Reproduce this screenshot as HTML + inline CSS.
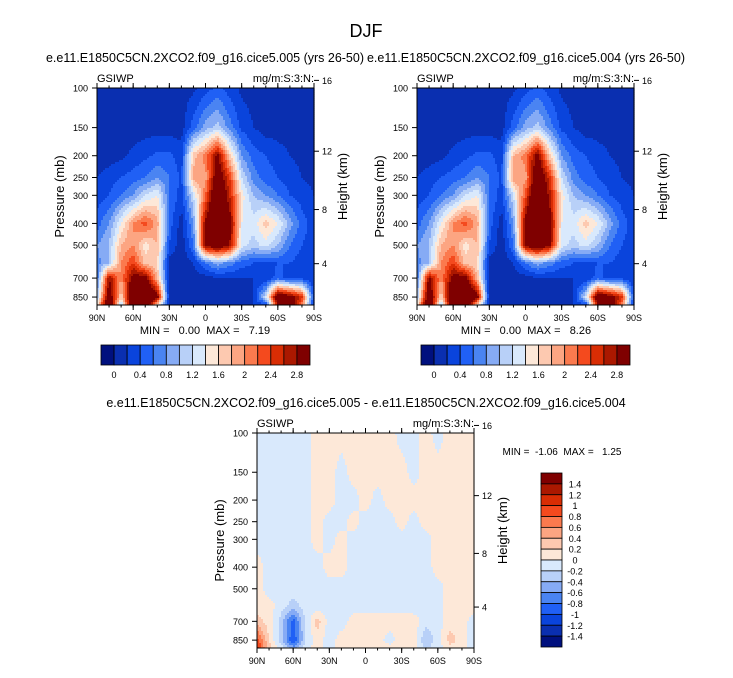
<!DOCTYPE html>
<html><head><meta charset="utf-8"><style>
html,body{margin:0;padding:0;background:#fff;}
body{width:733px;height:673px;overflow:hidden;font-family:"Liberation Sans",sans-serif;}
svg text{font-family:"Liberation Sans",sans-serif;fill:#000;white-space:pre;}
</style></head><body>
<svg id="fig" width="733" height="673" viewBox="0 0 733 673">
<text x="366" y="37" font-size="18" text-anchor="middle">DJF</text>
<g id="layer"></g>
</svg>
<script>
// ---- data ----
const lats = ["90N","80N","70N","60N","50N","40N","30N","20N","10N","0","10S","20S","30S","40S","50S","60S","70S","80S","90S"];
const levels = [100,150,200,250,300,400,500,600,700,850,925];
const xTickLabels = ["90N","60N","30N","0","30S","60S","90S"];
const pTickLabels = [100,150,200,250,300,400,500,700,850];
const hTickLabels = [16,12,8,4];
const hTickPressures = [92.5,191,347,604];
const topBounds = [0,0.2,0.4,0.6,0.8,1.0,1.2,1.4,1.6,1.8,2.0,2.2,2.4,2.6,2.8];
const topLabels = ["0","0.4","0.8","1.2","1.6","2","2.4","2.8"];
const diffBounds = [-1.4,-1.2,-1.0,-0.8,-0.6,-0.4,-0.2,0,0.2,0.4,0.6,0.8,1.0,1.2,1.4];
const diffLabels = ["1.4","1.2","1","0.8","0.6","0.4","0.2","0","-0.2","-0.4","-0.6","-0.8","-1","-1.2","-1.4"];
const colors = ["#00107e","#0a2fb0","#0a44dc","#2060f5","#4a84f2","#86abf5","#b8d0f8","#d9e9fc","#fde8d8","#fdc9b0","#fca582","#fb7a4e","#f44a1e","#d92d04","#ab1800","#7f0000"];

const field1 = [
[.1,.1,.1,.1,.1,.1,.1,.1,.15,.3,.45,.3,.15,.1,.1,.1,.1,.1,.1],
[.1,.1,.1,.1,.1,.1,.1,.1,.5,.9,1.1,.7,.35,.2,.1,.1,.1,.1,.1],
[.1,.1,.15,.25,.35,.45,.45,.3,1.7,2.1,2.9,1.7,.8,.5,.4,.3,.2,.15,.1],
[.2,.3,.4,.5,.6,.8,.6,.35,1.9,1.9,3.2,2.4,1.2,.7,.5,.4,.3,.2,.15],
[.3,.4,.6,.8,1.2,1.4,.6,.3,1.2,2.2,3.5,2.6,1.5,1.0,.8,.6,.4,.3,.2],
[.5,.8,1.4,2.0,2.3,1.9,.5,.1,.8,2.9,3.5,3.0,1.4,1.3,1.7,1.4,.9,.5,.3],
[.8,1.0,1.8,2.0,1.5,1.8,.4,.05,.6,2.9,3.2,2.8,1.3,1.1,1.3,1.0,.6,.4,.3],
[.7,1.0,2.0,2.4,1.7,1.6,.1,.05,.2,.6,.9,.7,.5,.4,.3,.4,.4,.3,.2],
[.6,2.8,2.0,3.0,3.0,1.8,.1,.05,.1,.1,.2,.2,.2,.2,.2,.5,.3,.3,.2],
[1.0,3.2,1.6,3.5,3.5,3.0,.1,.05,.1,.1,.1,.1,.1,.2,1.2,3.3,3.0,2.5,.3],
[1.5,3.5,1.0,3.5,3.5,1.5,.1,.05,.1,.1,.1,.1,.1,.2,.3,2.8,3.3,2.0,.2]];
const field2 = [
[.1,.1,.1,.1,.1,.1,.1,.1,.15,.3,.45,.3,.15,.1,.1,.1,.1,.1,.1],
[.1,.1,.1,.1,.1,.1,.1,.1,.5,.9,1.1,.7,.35,.2,.1,.1,.1,.1,.1],
[.1,.1,.15,.25,.35,.45,.45,.3,1.8,2.1,3.0,1.7,.8,.5,.4,.3,.2,.15,.1],
[.2,.3,.4,.5,.6,.8,.6,.35,2.0,1.9,3.3,2.5,1.2,.7,.5,.4,.3,.2,.15],
[.3,.4,.6,.8,1.2,1.4,.6,.3,1.2,2.3,3.6,2.7,1.5,1.0,.8,.6,.4,.3,.2],
[.5,.8,1.4,2.0,2.3,1.9,.5,.1,.8,3.0,3.6,3.0,1.4,1.3,1.7,1.4,.9,.5,.3],
[.8,1.0,1.8,2.0,1.5,1.8,.4,.05,.6,2.9,3.3,2.9,1.3,1.1,1.3,1.0,.6,.4,.3],
[.7,1.0,2.0,2.4,1.7,1.6,.1,.05,.2,.6,.9,.7,.5,.4,.3,.4,.4,.3,.2],
[.6,2.9,2.0,3.0,3.0,1.8,.1,.05,.1,.1,.2,.2,.2,.2,.2,.5,.3,.3,.2],
[1.0,3.3,1.6,3.6,3.6,3.0,.1,.05,.1,.1,.1,.1,.1,.2,1.2,3.3,3.0,2.5,.3],
[1.5,3.6,1.0,3.6,3.6,1.5,.1,.05,.1,.1,.1,.1,.1,.2,.3,2.8,3.3,2.0,.2]];
const fieldDiff = [
[-.1,-.1,-.1,-.1,-.1,.1,.1,.1,.1,.1,.1,.1,-.1,-.1,.1,-.1,.1,.1,.1],
[-.1,-.1,-.1,-.1,-.1,.1,.1,-.1,.1,.1,.1,.1,.1,-.1,.1,.1,.1,.1,.1],
[-.1,-.1,-.1,-.1,-.1,.1,.1,-.1,-.1,.1,-.1,.1,.1,.1,.1,.1,.1,.1,.1],
[-.1,-.1,-.1,-.1,-.1,.1,-.1,-.1,.1,-.1,-.1,-.1,.1,-.1,.1,.1,.1,.1,.1],
[-.1,-.1,-.1,-.1,-.1,.1,-.1,.1,-.1,-.1,-.1,-.1,-.1,-.1,-.1,.1,.1,.1,.1],
[.1,-.1,-.1,-.1,-.1,-.1,.1,.1,-.1,-.1,-.1,-.1,-.1,-.1,-.1,.1,.1,.1,.1],
[.1,-.1,-.1,-.1,-.1,-.1,-.1,-.1,-.1,-.1,-.1,-.1,-.1,-.1,-.1,-.1,.1,.1,.1],
[.1,.1,-.1,-.3,-.1,-.1,-.1,-.1,-.1,-.1,-.1,-.1,-.1,-.1,-.1,-.1,.1,.1,.1],
[.3,.1,-.3,-.9,-.2,.3,-.1,-.1,.1,.1,.1,.1,.1,.1,-.1,-.1,.1,.1,-.1],
[.9,.2,-.3,-1.0,-.2,.1,-.1,.1,.1,.1,.1,-.1,.1,.1,-.4,-.1,.3,.1,-.1],
[1.1,.3,-.1,-.5,-.1,.1,-.1,.1,.1,.1,.1,.1,.1,.1,-.2,-.1,.1,.1,-.1]];

// ---- drawing ----
const NS="http://www.w3.org/2000/svg";
const layer=document.getElementById('layer');
function mk(tag,attrs,parent,txt){const e=document.createElementNS(NS,tag);for(const k in attrs)e.setAttribute(k,attrs[k]);if(txt!==undefined)e.textContent=txt;(parent||layer).appendChild(e);return e;}
const PB=922;
function bandIndex(v,bounds){let i=0;while(i<bounds.length&&v>=bounds[i])i++;return i;}
function sample(field,fx,lp){
  let c=Math.min(17.999,Math.max(0,fx));const c0=Math.floor(c),tc=c-c0;
  const lv=levels.map(Math.log);
  let r0=0;while(r0<levels.length-2&&lp>lv[r0+1])r0++;
  let tr=(lp-lv[r0])/(lv[r0+1]-lv[r0]);tr=Math.max(0,Math.min(1,tr));
  const a=field[r0][c0]*(1-tc)+field[r0][c0+1]*tc;
  const b=field[r0+1][c0]*(1-tc)+field[r0+1][c0+1]*tc;
  return a*(1-tr)+b*tr;
}
function panel(name,L,T,W,H,field,bounds){
  const g=mk('g',{});
  
  
  const yOf=p=>T+Math.log(p/100)/Math.log(PB/100)*H;
  const xOf=i=>L+i/6*W;
  const s=2;
  function flush(x0,x1,y,col){
    const r=mk('rect',{x:x0,y:y,width:x1-x0+0.6,height:Math.min(s,T+H-y)+0.4,fill:col},g);
    
    
  }
  for(let y=T;y<T+H;y+=s){
    const lp=Math.log(100)+((y+s/2-T)/H)*Math.log(PB/100);
    let runStart=L,runCol=null;
    for(let x=L;x<L+W;x+=s){
      const v=sample(field,(x+s/2-L)/W*18,lp);
      const col=colors[bandIndex(v,bounds)];
      if(col!==runCol){
        if(runCol!==null)flush(runStart,x,y,runCol);
        runStart=x;runCol=col;
      }
    }
    if(runCol!==null)flush(runStart,L+W,y,runCol);
  }
  mk('rect',{x:L,y:T,width:W,height:H,fill:'none',stroke:'#000','stroke-width':1},g);
  pTickLabels.forEach(p=>{const y=yOf(p);mk('line',{x1:L-5,x2:L,y1:y,y2:y,stroke:'#000'},g);
    const t=mk('text',{x:L-9,y:y+3.5,'font-size':9,'text-anchor':'end'},g,String(p));
    
    });
  xTickLabels.forEach((lab,i)=>{const x=xOf(i);mk('line',{x1:x,x2:x,y1:T+H,y2:T+H+5,stroke:'#000'},g);mk('line',{x1:x,x2:x,y1:T,y2:T-5,stroke:'#000'},g);
    const t=mk('text',{x:x,y:T+H+16,'font-size':9,'text-anchor':'middle'},g,lab);
    
    });
  for(let i=0;i<=18;i++){const x=L+i/18*W;mk('line',{x1:x,x2:x,y1:T+H,y2:T+H+2.5,stroke:'#000'},g);mk('line',{x1:x,x2:x,y1:T,y2:T-2.5,stroke:'#000'},g);}
  hTickLabels.forEach((h,i)=>{const y=yOf(hTickPressures[i]);mk('line',{x1:L+W,x2:L+W+5,y1:y,y2:y,stroke:'#000'},g);
    const t=mk('text',{x:L+W+8,y:y+3.5,'font-size':9},g,String(h));
    
    });
  const yl=mk('text',{x:0,y:0,'font-size':13,'text-anchor':'middle',transform:`translate(${L-33},${T+H/2}) rotate(-90)`},g,'Pressure (mb)');
  
  
  const hl=mk('text',{x:0,y:0,'font-size':13,'text-anchor':'middle',transform:`translate(${L+W+33},${T+H/2-10}) rotate(-90)`},g,'Height (km)');
  
  
  const a=mk('text',{x:L,y:T-6,'font-size':11},g,'GSIWP');
  
  
  const b=mk('text',{x:L+W,y:T-6,'font-size':11,'text-anchor':'end'},g,'mg/m:S:3:N:');
  
  
}
function hbar(name,L,T,W,H){
  const g=mk('g',{});
  
  
  const bw=W/colors.length;
  colors.forEach((c,i)=>{const r=mk('rect',{x:L+i*bw,y:T,width:bw,height:H,fill:c,stroke:'#000','stroke-width':0.8},g);
    
    });
  topLabels.forEach((lab,i)=>{const t=mk('text',{x:L+(1+2*i)*bw,y:T+H+13,'font-size':9,'text-anchor':'middle'},g,lab);
    
    });
}
function vbar(name,L,T,W,H){
  const g=mk('g',{});
  
  
  const bh=H/colors.length;
  colors.slice().reverse().forEach((c,i)=>{const r=mk('rect',{x:L,y:T+i*bh,width:W,height:bh,fill:c,stroke:'#000','stroke-width':0.8},g);
    
    });
  diffLabels.forEach((lab,i)=>{const t=mk('text',{x:L+W+13,y:T+(i+1)*bh+3.5,'font-size':9,'text-anchor':'middle'},g,lab);
    
    });
}
function txt(name,x,y,s,size,anchor){const t=mk('text',{x:x,y:y,'font-size':size,'text-anchor':anchor||'middle','xml:space':'preserve'},layer,s);
  
  }

panel('panel-case-005',97,88,217,217,field1,topBounds);
panel('panel-case-004',417,88,217,217,field2,topBounds);
panel('panel-difference',257,433,217,215,fieldDiff,diffBounds);
hbar('colorbar-left',101,345,209,20);
hbar('colorbar-right',421,345,209,20);
vbar('colorbar-diff',541,473,21,174);
txt('title-left',205,62,'e.e11.E1850C5CN.2XCO2.f09_g16.cice5.005 (yrs 26-50)',12.5);
txt('title-right',526,62,'e.e11.E1850C5CN.2XCO2.f09_g16.cice5.004 (yrs 26-50)',12.5);
txt('title-diff',366,407,'e.e11.E1850C5CN.2XCO2.f09_g16.cice5.005 - e.e11.E1850C5CN.2XCO2.f09_g16.cice5.004',12.5);
txt('minmax-left',205,334,'MIN =   0.00  MAX =   7.19',11);
txt('minmax-right',526,334,'MIN =   0.00  MAX =   8.26',11);
txt('minmax-diff',562,455,'MIN =  -1.06  MAX =   1.25',10);
</script>
</body></html>
